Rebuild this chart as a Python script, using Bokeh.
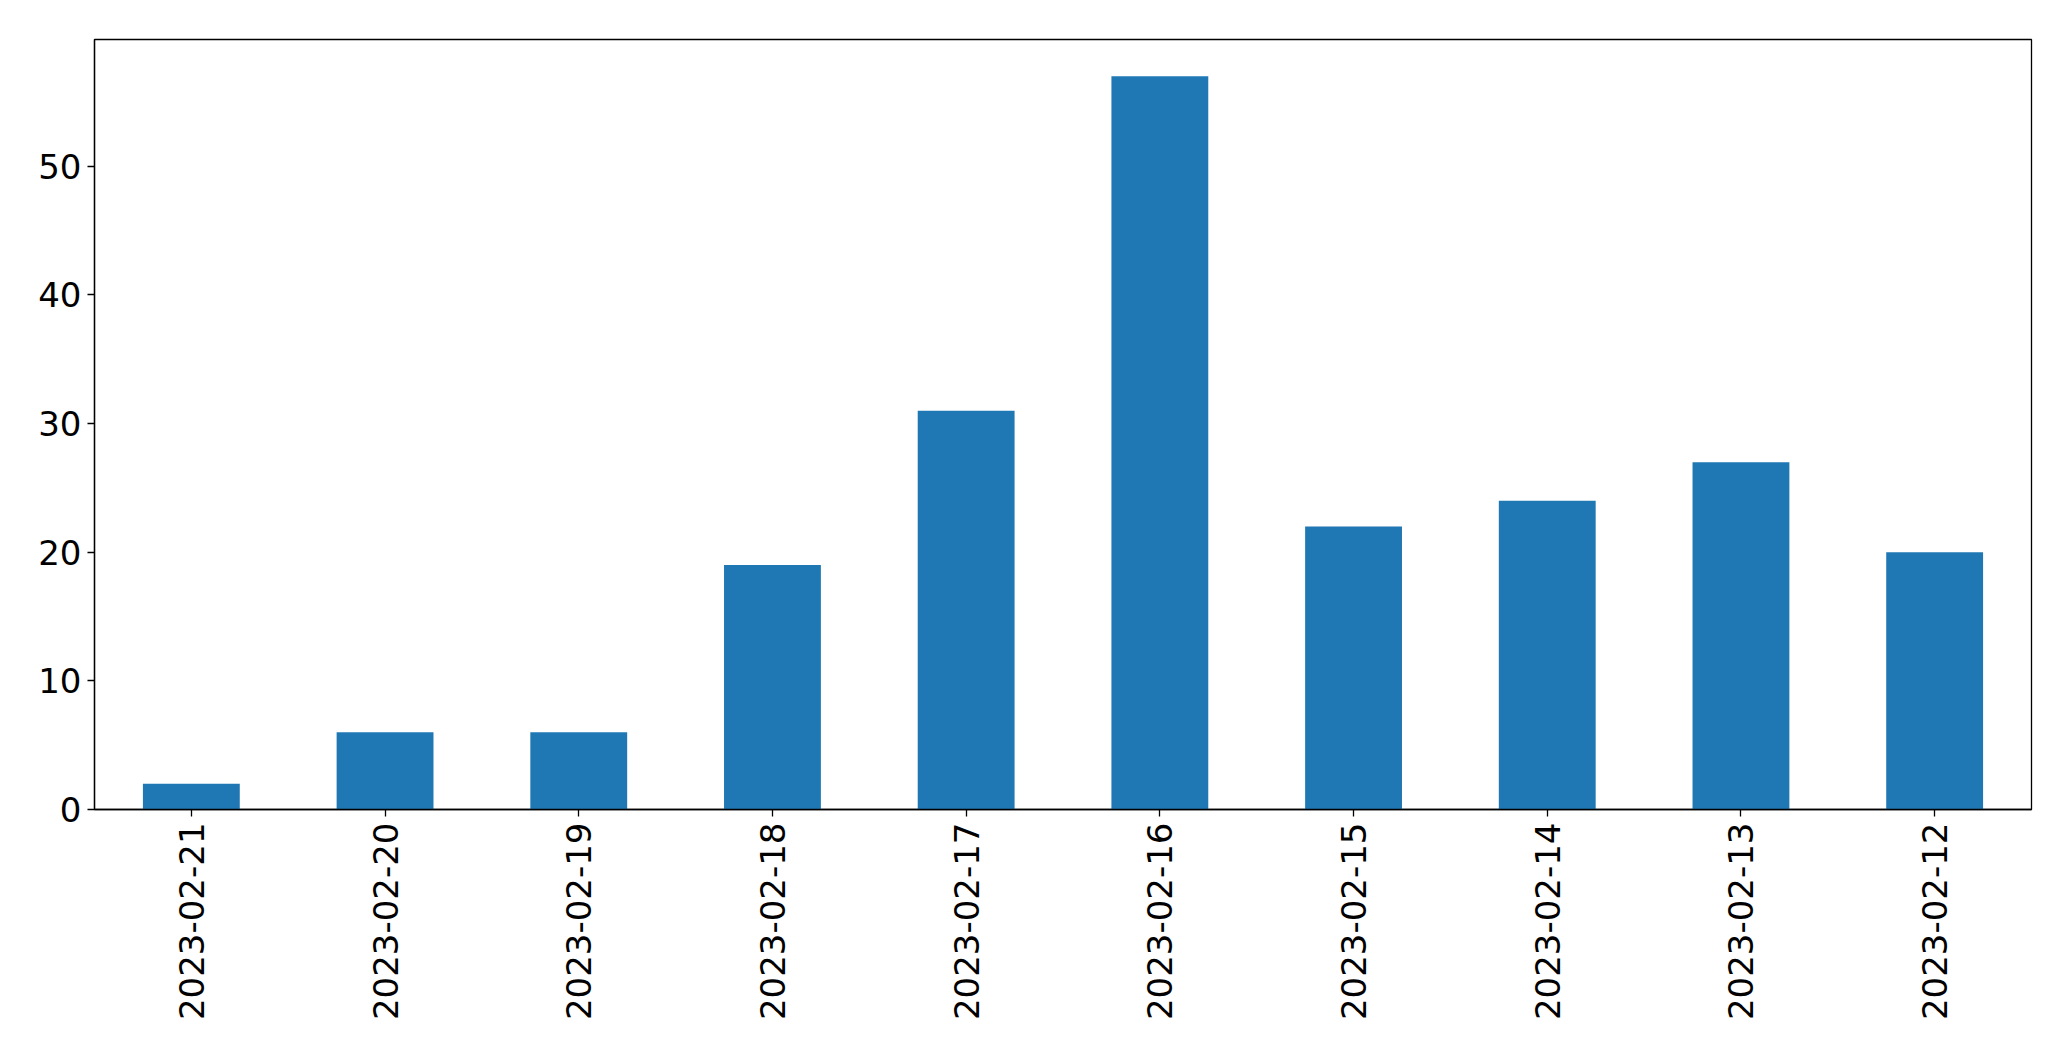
import math
from bokeh.plotting import figure
from bokeh.models import Range1d, FactorRange, FixedTicker, ColumnDataSource
from bokeh.embed import file_html
from bokeh.resources import INLINE

dates = ["2023-02-21", "2023-02-20", "2023-02-19", "2023-02-18", "2023-02-17",
         "2023-02-16", "2023-02-15", "2023-02-14", "2023-02-13", "2023-02-12"]
counts = [2, 6, 6, 19, 31, 57, 22, 24, 27, 20]
y_ticks = [0, 10, 20, 30, 40, 50]

source = ColumnDataSource(data=dict(date=dates, count=counts))

p = figure(
    x_range=FactorRange(factors=dates),
    y_range=Range1d(0, max(counts) * 1.05),
    frame_width=1937, frame_height=770,
    min_border_left=94, min_border_top=39, min_border_right=20, min_border_bottom=215,
    output_backend="svg", toolbar_location=None,
)
p.vbar(x="date", top="count", width=0.5, source=source,
       fill_color="#1f77b4", line_color=None)

p.xgrid.grid_line_color = None
p.ygrid.grid_line_color = None
p.outline_line_color = "black"
p.outline_line_width = 1.3
p.background_fill_color = "white"
p.border_fill_color = "white"

p.yaxis.ticker = FixedTicker(ticks=y_ticks)
for ax in (p.xaxis[0], p.yaxis[0]):
    ax.axis_line_color = "black"
    ax.axis_line_width = 1.3
    ax.major_tick_line_color = "black"
    ax.major_tick_line_width = 1.3
    ax.major_tick_out = 7
    ax.major_tick_in = 0
    ax.minor_tick_line_color = None
    ax.major_label_text_font = "DejaVu Sans"
    ax.major_label_text_font_size = "34px"
    ax.major_label_text_color = "black"
    ax.major_label_standoff = 6
p.xaxis.major_label_orientation = math.pi / 2

open("out.html", "w").write(file_html(p, INLINE))
